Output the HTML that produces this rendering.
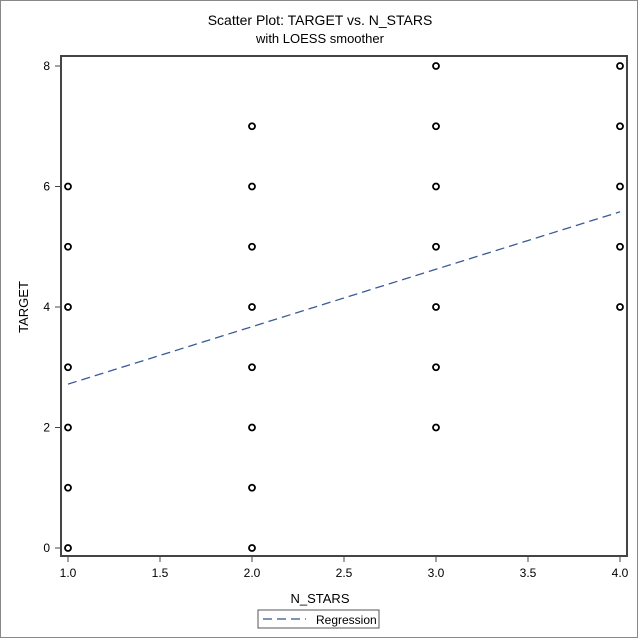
<!DOCTYPE html>
<html><head><meta charset="utf-8"><style>
html,body{margin:0;padding:0;background:#fff}
svg{display:block;font-family:"Liberation Sans",sans-serif}
</style></head><body>
<svg width="640" height="640" viewBox="0 0 640 640">
<rect x="0.5" y="0.5" width="637" height="637" fill="#fff" stroke="#888"/>
<text x="320" y="25" text-anchor="middle" font-size="14">Scatter Plot: TARGET vs. N_STARS</text>
<text x="320" y="43" text-anchor="middle" font-size="13">with LOESS smoother</text>
<g id="ticks"></g>
<g id="marks"></g>
<rect x="61" y="56" width="566" height="500" fill="none" stroke="#444" stroke-width="2"/>
<text x="320" y="603" text-anchor="middle" font-size="13">N_STARS</text>
<text transform="translate(28,307) rotate(-90)" text-anchor="middle" font-size="13">TARGET</text>
<g>
<rect x="258" y="610" width="121" height="18" fill="#fff" stroke="#555"/>
<line x1="263" y1="619" x2="306" y2="619" stroke="#7f95b8" stroke-width="2" stroke-dasharray="9,5"/>
<text x="316" y="624" font-size="12">Regression</text>
</g>
</svg>
<script>
const xTicks=[1.0,1.5,2.0,2.5,3.0,3.5,4.0];
const xTickLabels=["1.0","1.5","2.0","2.5","3.0","3.5","4.0"];
const yTicks=[0,2,4,6,8];
const pointX=[1,1,1,1,1,1,1,2,2,2,2,2,2,2,2,3,3,3,3,3,3,3,4,4,4,4,4];
const pointY=[0,1,2,3,4,5,6,0,1,2,3,4,5,6,7,2,3,4,5,6,7,8,4,5,6,7,8];
const regX=[1,4];
const regY=[2.72,5.58];
const NS="http://www.w3.org/2000/svg";
function sx(v){return 68+(v-1)*(620-68)/3;}
function sy(v){return 548-v*(548-66)/8;}
const tg=document.getElementById('ticks'),mg=document.getElementById('marks');
function mk(tag,attrs,parent){const e=document.createElementNS(NS,tag);for(const k in attrs)e.setAttribute(k,attrs[k]);parent.appendChild(e);return e;}
xTicks.forEach((t,i)=>{
 const l=mk('line',{x1:sx(t),x2:sx(t),y1:556,y2:562,stroke:'#444'},tg);
 
 
 const tx=mk('text',{x:sx(t),y:577,'text-anchor':'middle','font-size':'12'},tg);
 tx.textContent=xTickLabels[i];
 
 
});
yTicks.forEach(t=>{
 const l=mk('line',{x1:55,x2:61,y1:sy(t),y2:sy(t),stroke:'#444'},tg);
 
 
 const tx=mk('text',{x:50,y:sy(t)+4,'text-anchor':'end','font-size':'12'},tg);
 tx.textContent=String(t);
 
 
});
const rl=mk('line',{x1:sx(regX[0]),y1:sy(regY[0]),x2:sx(regX[1]),y2:sy(regY[1]),stroke:'#3a5a95','stroke-width':'1.3','stroke-dasharray':'9,5'},mg);


pointX.forEach((x,i)=>{
 const c=mk('circle',{cx:sx(x),cy:sy(pointY[i]),r:'3',fill:'none',stroke:'#000','stroke-width':'1.8'},mg);
 
 
});
</script>
</body></html>
